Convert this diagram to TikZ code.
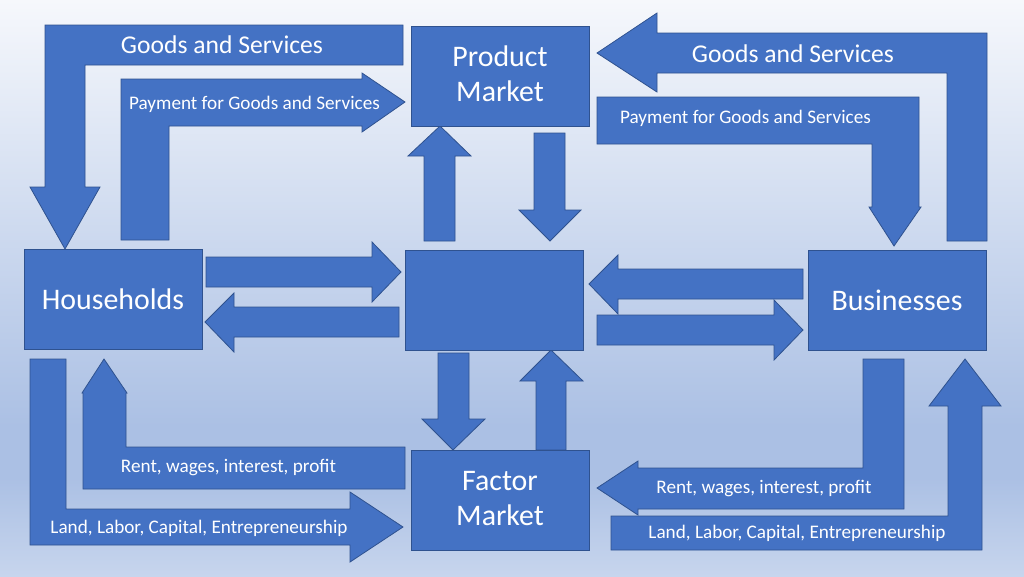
\documentclass[tikz,border=0pt]{standalone}
\usepackage{fontspec}
\setmainfont{Carlito}
\definecolor{blk}{HTML}{4472C4}
\definecolor{blkedge}{HTML}{2F528F}
\definecolor{bgtop}{HTML}{F6F8FC}
\definecolor{bgdeep}{HTML}{ABC0E4}
\definecolor{bgbot}{HTML}{C7D5ED}
\pgfdeclareverticalshading{bgfade}{100bp}{color(0bp)=(bgbot); color(25bp)=(bgbot); color(33.5bp)=(bgdeep); color(38bp)=(bgdeep); color(75bp)=(bgtop); color(100bp)=(bgtop)}
\begin{document}
\begin{tikzpicture}[x=0.75pt, y=-0.75pt,
        box/.style = {draw=blkedge, fill=blk, line width=0.6pt, minimum width=133.5pt, minimum height=75pt, inner sep=0pt, text=white, align=center, font=\fontsize{22.4}{26.3}\selectfont},
        blkarrow/.style = {draw=blkedge, fill=blk, line width=0.6pt},
        big/.style = {text=white, inner sep=0pt, anchor=base, font=\fontsize{19.2}{23}\selectfont},
        small/.style = {text=white, inner sep=0pt, anchor=base, font=\fontsize{14.4}{17}\selectfont}]
        \shade[shading=bgfade] (0, 0) rectangle (1024, 576);
        \useasboundingbox (0, 0) rectangle (1024, 576);

        \path[blkarrow] (403, 25) -- (45, 25) -- (45, 187) -- (30, 187) -- (65, 249) -- (100, 187) -- (85, 187) -- (85, 65) -- (403, 65) -- cycle;
        \path[blkarrow] (121, 240) -- (121, 79) -- (362, 79) -- (362, 73) -- (405, 102) -- (362, 132) -- (362, 126) -- (169, 126) -- (169, 240) -- cycle;
        \path[blkarrow] (987, 241) -- (987, 33) -- (657, 33) -- (657, 13) -- (597, 53) -- (657, 92) -- (657, 73) -- (947, 73) -- (947, 241) -- cycle;
        \path[blkarrow] (597, 97) -- (919, 97) -- (919, 207) -- (921, 207) -- (894, 246) -- (869, 207) -- (872, 207) -- (872, 144) -- (597, 144) -- cycle;

        \path[blkarrow] (30, 359) -- (66, 359) -- (66, 509) -- (350, 509) -- (350, 492) -- (403, 527) -- (350, 562) -- (350, 545) -- (30, 545) -- cycle;
        \path[blkarrow] (405, 447) -- (405, 489) -- (83, 489) -- (83, 393) -- (82, 393) -- (104, 359) -- (127, 393) -- (126, 393) -- (126, 447) -- cycle;
        \path[blkarrow] (863, 359) -- (904, 359) -- (904, 509) -- (638, 509) -- (638, 515) -- (597, 488) -- (638, 461) -- (638, 468) -- (863, 468) -- cycle;
        \path[blkarrow] (611, 516) -- (948, 516) -- (948, 406) -- (929, 406) -- (965, 359) -- (1001, 406) -- (982, 406) -- (982, 550) -- (611, 550) -- cycle;

        \path[blkarrow] (424, 241) -- (424, 156) -- (408, 156) -- (440, 126) -- (471, 156) -- (455, 156) -- (455, 241) -- cycle;
        \path[blkarrow] (534, 133) -- (534, 210) -- (519, 210) -- (550, 241) -- (581, 210) -- (565, 210) -- (565, 133) -- cycle;
        \path[blkarrow] (206, 257) -- (372, 257) -- (372, 242) -- (401, 272) -- (372, 302) -- (372, 287) -- (206, 287) -- cycle;
        \path[blkarrow] (399, 307) -- (234, 307) -- (234, 293) -- (205, 322) -- (234, 352) -- (234, 337) -- (399, 337) -- cycle;
        \path[blkarrow] (803, 269) -- (618, 269) -- (618, 255) -- (589, 284) -- (618, 314) -- (618, 299) -- (803, 299) -- cycle;
        \path[blkarrow] (597, 315) -- (774, 315) -- (774, 300) -- (803, 330) -- (774, 360) -- (774, 345) -- (597, 345) -- cycle;
        \path[blkarrow] (438, 353) -- (438, 419) -- (422, 419) -- (453, 450) -- (485, 419) -- (469, 419) -- (469, 353) -- cycle;
        \path[blkarrow] (536, 450) -- (536, 381) -- (520, 381) -- (551, 350) -- (583, 381) -- (566, 381) -- (566, 450) -- cycle;

        \node[box] at (113, 299.5) (hh) {Households};
        \node[box] at (897, 300) (bz) {Businesses};
        \node[box] at (494, 300) (ct) {};
        \node[box, text depth=3pt] at (500, 76) (pm) {Product\\Market};
        \node[box, text depth=3pt] at (500, 500) (fm) {Factor\\Market};

        \node[big] at (222, 53) (goods1) {Goods and Services};
        \node[small] at (254.5, 109) (pay1) {Payment for Goods and Services};
        \node[big] at (793, 62) (goods2) {Goods and Services};
        \node[small] at (745.5, 123) (pay2) {Payment for Goods and Services};
        \node[small] at (228.5, 472) (rent1) {Rent, wages, interest, profit};
        \node[small] at (199, 533) (land1) {Land, Labor, Capital, Entrepreneurship};
        \node[small] at (764, 493) (rent2) {Rent, wages, interest, profit};
        \node[small] at (797, 538) (land2) {Land, Labor, Capital, Entrepreneurship};
    \end{tikzpicture}
\end{document}
